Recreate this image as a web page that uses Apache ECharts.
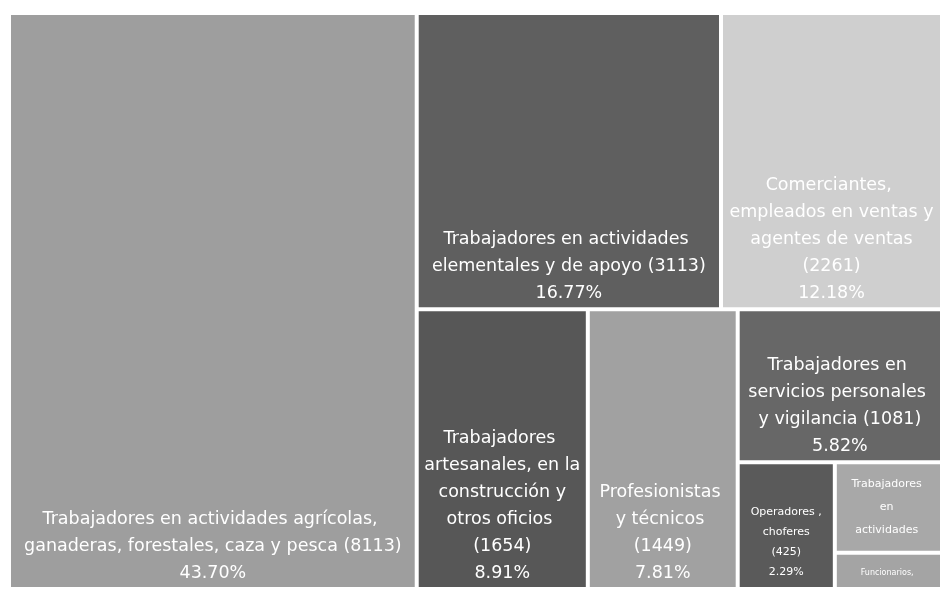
<!DOCTYPE html>
<html>
<head>
<meta charset="utf-8">
<script src="https://cdn.jsdelivr.net/npm/echarts@6/dist/echarts.min.js"></script>
<style>
  html, body { margin: 0; padding: 0; background: #fff; }
  #chart { width: 942px; height: 591px; }
</style>
</head>
<body>
<div id="chart"></div>
<script>
const names = [
  "Trabajadores en actividades agrícolas, ganaderas, forestales, caza y pesca",
  "Trabajadores en actividades elementales y de apoyo",
  "Comerciantes, empleados en ventas y agentes de ventas",
  "Trabajadores artesanales, en la construcción y otros oficios",
  "Profesionistas y técnicos",
  "Trabajadores en servicios personales y vigilancia",
  "Operadores , choferes",
  "Trabajadores en actividades administrativas",
  "Funcionarios, directores y jefes"
];
const values = [8113, 3113, 2261, 1654, 1449, 1081, 425, 335, 134];
const colors = ["#9e9e9e", "#5f5f5f", "#cfcfcf", "#575757", "#a1a1a1", "#676767", "#5a5a5a", "#a8a8a8", "#a4a4a4"];

const total = values.reduce((a, b) => a + b, 0);

const chart = echarts.init(document.getElementById("chart"));
chart.setOption({
  series: [{
    type: "treemap",
    left: 9,
    top: 13,
    right: 0,
    bottom: 2,
    roam: false,
    nodeClick: false,
    squareRatio: 1,
    breadcrumb: { show: false },
    itemStyle: { borderColor: "#fff", borderWidth: 1, gapWidth: 2 },
    label: {
      show: true,
      position: "insideBottom",
      distance: -5,
      color: "#fff",
      fontFamily: "DejaVu Sans",
      fontSize: 17.5,
      lineHeight: 27,
      align: "center",
      overflow: "break",
      lineOverflow: "truncate",
      formatter: (p) => p.name + " (" + p.value + ")\n" + (p.value / total * 100).toFixed(2) + "%"
    },
    data: names.map((n, i) => ({
      name: n,
      value: values[i],
      itemStyle: { color: colors[i] },
      label: i === 6 ? { fontSize: 11, lineHeight: 20, distance: 0 }
        : i === 7 ? { fontSize: 11, lineHeight: 23, position: "inside" }
        : i === 8 ? { fontSize: 8, lineHeight: 14, distance: 2 } : {}
    }))
  }]
});
</script>
</body>
</html>
